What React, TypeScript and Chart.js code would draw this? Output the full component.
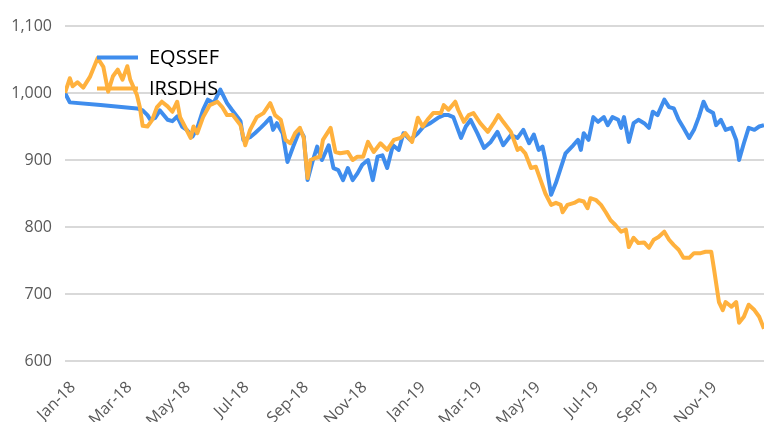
import React, { useEffect, useRef } from 'react';
import { Chart, registerables } from 'chart.js';

Chart.register(...registerables);

// Days since 2018-01-01
const eqDays = [0, 5, 37, 75, 81, 86, 89, 94, 99, 107, 112, 117, 122, 127, 133, 138, 144, 149, 155, 162, 169, 174, 180, 183, 186, 193, 198, 204, 209, 214, 217, 221, 227, 232, 238, 245, 249, 253, 258, 263, 268, 275, 280, 285, 290, 295, 300, 305, 310, 316, 321, 326, 331, 336, 342, 348, 353, 360, 368, 374, 381, 389, 395, 400, 405, 413, 418, 423, 430, 437, 444, 451, 457, 465, 472, 478, 484, 489, 494, 498, 501, 507, 512, 517, 522, 530, 535, 538, 541, 546, 551, 556, 562, 566, 571, 577, 580, 583, 588, 593, 598, 604, 609, 613, 618, 625, 630, 635, 640, 645, 651, 656, 661, 666, 670, 676, 679, 684, 689, 695, 700, 703, 708, 713, 719, 724, 729];
const eqValues = [1000, 986, 982, 977, 974, 967, 960, 963, 974, 960, 958, 965, 950, 945, 935, 948, 975, 990, 985, 1005, 985, 975, 964, 958, 930, 934, 940, 948, 955, 963, 945, 955, 940, 897, 920, 945, 935, 870, 897, 920, 900, 922, 888, 885, 870, 888, 870, 880, 893, 900, 870, 905, 907, 888, 922, 915, 940, 930, 940, 950, 955, 963, 967, 967, 964, 933, 950, 960, 940, 918, 927, 942, 922, 937, 933, 945, 925, 938, 915, 920, 900, 848, 866, 888, 910, 922, 930, 915, 940, 930, 964, 957, 964, 952, 964, 960, 948, 964, 927, 955, 960, 955, 948, 972, 967, 990, 979, 977, 960, 948, 933, 945, 964, 987, 975, 970, 952, 960, 945, 948, 930, 900, 925, 948, 945, 950, 952];

const irDays = [0, 5, 8, 13, 19, 26, 34, 40, 45, 50, 55, 60, 65, 68, 75, 78, 81, 86, 91, 96, 101, 107, 112, 117, 120, 125, 131, 134, 138, 144, 151, 159, 164, 169, 175, 183, 188, 193, 200, 207, 214, 219, 225, 230, 235, 240, 245, 249, 253, 256, 261, 266, 269, 277, 282, 287, 295, 300, 305, 311, 316, 322, 329, 336, 343, 350, 355, 362, 368, 373, 378, 384, 392, 395, 400, 407, 410, 416, 421, 426, 433, 441, 447, 452, 457, 465, 472, 475, 480, 486, 491, 496, 501, 507, 512, 517, 519, 524, 531, 536, 541, 545, 548, 554, 559, 564, 569, 574, 580, 585, 588, 593, 598, 604, 609, 614, 619, 625, 630, 635, 640, 645, 651, 656, 663, 668, 674, 677, 682, 686, 689, 695, 700, 703, 708, 713, 719, 724, 729];
const irValues = [1000, 1022, 1010, 1016, 1008, 1024, 1052, 1039, 1002, 1025, 1035, 1020, 1040, 1020, 997, 979, 951, 950, 960, 979, 987, 980, 972, 987, 964, 950, 933, 950, 940, 964, 982, 987, 979, 967, 967, 952, 922, 945, 964, 970, 985, 967, 960, 930, 925, 940, 948, 933, 873, 900, 903, 905, 930, 948, 912, 910, 912, 900, 905, 905, 927, 912, 925, 915, 930, 933, 940, 927, 963, 950, 960, 970, 970, 982, 975, 987, 975, 957, 967, 970, 955, 942, 955, 967, 957, 942, 915, 918, 910, 888, 890, 870, 850, 833, 836, 833, 822, 833, 836, 840, 838, 828, 843, 840, 833, 822, 810, 803, 793, 796, 770, 784, 776, 777, 769, 781, 785, 793, 781, 773, 766, 754, 754, 761, 761, 763, 763, 736, 688, 676, 688, 681, 688, 657, 666, 684, 676, 666, 648];

const seriesNames = ['EQSSEF', 'IRSDHS'];
const seriesColors = ['#3f8ded', '#ffb13d'];

const tickDays = [0, 59, 120, 181, 243, 304, 365, 424, 485, 546, 608, 669];
const tickLabels = ['Jan-18', 'Mar-18', 'May-18', 'Jul-18', 'Sep-18', 'Nov-18', 'Jan-19', 'Mar-19', 'May-19', 'Jul-19', 'Sep-19', 'Nov-19'];
const xMax = 729;
const yMin = 600;
const yMax = 1100;
const yStep = 100;

const FONT = "'Open Sans', sans-serif";

const insideLegend = {
  id: 'insideLegend',
  afterDatasetsDraw(chart: any) {
    const { ctx, chartArea } = chart;
    ctx.save();
    chart.data.datasets.forEach((ds: any, i: number) => {
      const y = chartArea.top + 31.5 + i * 31;
      ctx.strokeStyle = ds.borderColor;
      ctx.lineWidth = 4;
      ctx.lineCap = 'butt';
      ctx.beginPath();
      ctx.moveTo(chartArea.left + 32, y);
      ctx.lineTo(chartArea.left + 73, y);
      ctx.stroke();
      ctx.fillStyle = '#000000';
      ctx.font = `20px ${FONT}`;
      ctx.textBaseline = 'middle';
      ctx.textAlign = 'left';
      ctx.fillText(ds.label, chartArea.left + 84, y + 1);
    });
    ctx.restore();
  },
};

export default function App() {
  const canvasRef = useRef<HTMLCanvasElement | null>(null);

  useEffect(() => {
    if (!canvasRef.current) return;
    const toPoints = (days: number[], vals: number[]) => days.map((d, i) => ({ x: d, y: vals[i] }));
    const chart = new Chart(canvasRef.current, {
      type: 'line',
      data: {
        datasets: [
          {
            label: seriesNames[0],
            data: toPoints(eqDays, eqValues),
            borderColor: seriesColors[0],
            backgroundColor: seriesColors[0],
            borderWidth: 4,
            pointRadius: 0,
            tension: 0,
            borderJoinStyle: 'round',
            order: 2,
          },
          {
            label: seriesNames[1],
            data: toPoints(irDays, irValues),
            borderColor: seriesColors[1],
            backgroundColor: seriesColors[1],
            borderWidth: 4,
            pointRadius: 0,
            tension: 0,
            borderJoinStyle: 'round',
            order: 1,
          },
        ],
      },
      options: {
        animation: false,
        responsive: false,
        devicePixelRatio: 1,
        layout: { padding: { top: 26, right: 0, left: 0, bottom: 0 } },
        plugins: {
          legend: { display: false },
          tooltip: { enabled: false },
        },
        scales: {
          x: {
            type: 'linear',
            min: 0,
            max: xMax,
            grid: { display: false, drawTicks: false },
            border: { display: false },
            afterBuildTicks: (scale: any) => {
              scale.ticks = tickDays.map((v) => ({ value: v }));
            },
            afterFit: (scale: any) => {
              scale.height = 61;
            },
            ticks: {
              autoSkip: false,
              minRotation: 45,
              maxRotation: 45,
              padding: 17,
              labelOffset: 8,
              color: '#595959',
              font: { family: FONT, size: 16 },
              callback: (value: any) => {
                const idx = tickDays.indexOf(Number(value));
                return idx >= 0 ? tickLabels[idx] : '';
              },
            },
          },
          y: {
            type: 'linear',
            min: yMin,
            max: yMax,
            grid: { color: '#d9d9d9', lineWidth: 2, drawTicks: false },
            border: { display: false },
            afterFit: (scale: any) => {
              scale.width = 65;
            },
            ticks: {
              stepSize: yStep,
              padding: 13,
              color: '#595959',
              font: { family: FONT, size: 16 },
            },
          },
        },
      },
      plugins: [insideLegend],
    });
    return () => chart.destroy();
  }, []);

  return (
    <div style={{ position: 'fixed', left: 0, top: 0, width: 764, height: 422, background: '#ffffff' }}>
      <canvas ref={canvasRef} width={764} height={422} style={{ display: 'block' }} />
    </div>
  );
}
